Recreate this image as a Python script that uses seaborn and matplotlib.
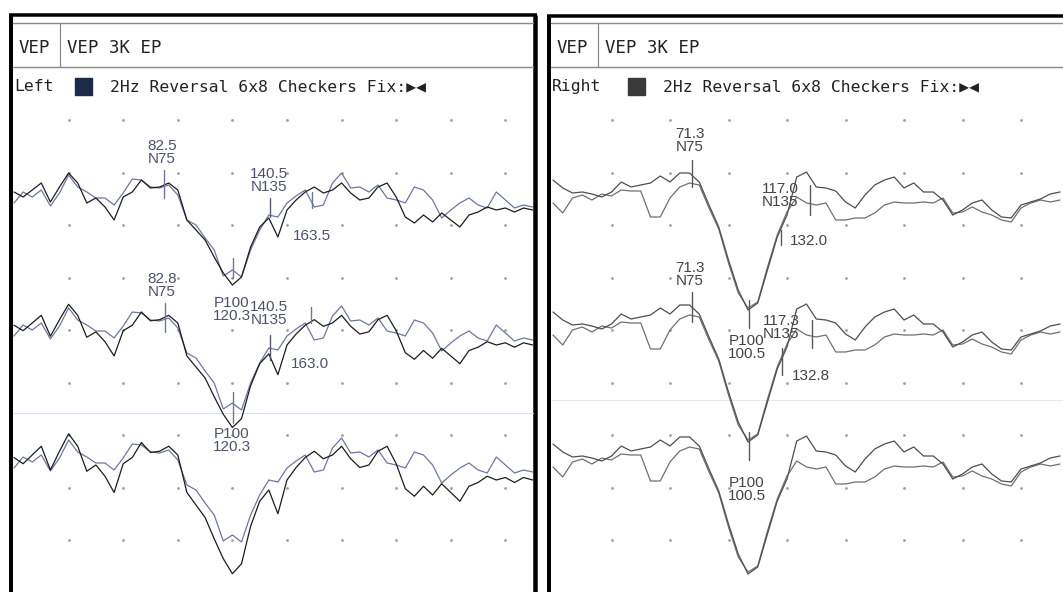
import numpy as np
import matplotlib
matplotlib.use('Agg')
import matplotlib.pyplot as plt
import seaborn as sns
from matplotlib.patches import Rectangle

sns.set_theme(style='white')
plt.rcParams['font.family'] = ['DejaVu Sans Mono', 'DejaVu Sans']

# ---- data: VEP traces (amplitude, px units of the first row, up = positive) ----
TIME_L = np.arange(0, 290, 5)          # ms, left eye
LEFT_BLACK = [-2, -7, 0, 7, -12, 3, 17, 7, -13, -8, -17, -30, -7, -2, 10, 2, 3, 7, 0, -30,
              -40, -50, -67, -83, -95, -87, -57, -37, -28, -47, -20, -10, -2, 3, -3, 0, 7, -3,
              -10, -8, 3, 7, -7, -27, -33, -25, -32, -23, -30, -37, -25, -22, -17, -20, -18,
              -22, -18, -20]
LEFT_BLUE = [-13, -2, -7, 0, -16, -3, 15, 3, -2, -8, -8, -15, -3, 11, 10, 3, 2, 5, -5, -30,
             -35, -48, -60, -86, -80, -87, -60, -40, -25, -27, -13, -6, 0, -17, -15, 7, 17, 2,
             3, -2, 5, -8, -10, -13, 3, 0, -10, -28, -20, -13, -8, -15, -18, -2, -10, -18,
             -15, -17]

TIME_R = np.arange(0, 265, 5)          # ms, right eye
RIGHT_A = [13, 5, 0, 1, -1, -4, 1, 11, 6, 8, 10, 17, 11, 20, 20, 11, -12, -34, -67, -97,
           -117, -110, -77, -44, -22, 16, 21, 6, 5, 2, -9, -15, -2, 8, 13, 16, 5, 10, 1, 1,
           -7, -22, -17, -10, -7, -17, -24, -25, -12, -9, -6, -1, 1]
RIGHT_B = [-10, -20, -5, -2, -7, -1, -3, 3, 2, 2, -24, -24, -5, 6, 10, 8, -15, -36, -70, -100,
           -115, -109, -74, -42, -19, -4, -10, -12, -10, -27, -27, -25, -25, -20, -12, -9, -10,
           -10, -9, -10, -5, -20, -19, -14, -19, -22, -27, -29, -15, -10, -7, -9, -7]

# peak markers (ms) and their labels
LEFT_MARK_T = [82.5, 140.5, 163.5, 120.3, 82.8, 140.5, 163.0, 120.3]
LEFT_LABELS = [('82.5', 'N75'), ('140.5', 'N135'), ('163.5', ''), ('P100', '120.3'),
               ('82.8', 'N75'), ('140.5', 'N135'), ('163.0', ''), ('P100', '120.3')]
RIGHT_MARK_T = [71.3, 132.0, 117.0, 100.5, 71.3, 132.8, 117.3, 100.5]
RIGHT_LABELS = [('71.3', 'N75'), ('117.0', 'N135'), ('132.0', ''), ('P100', '100.5'),
                ('71.3', 'N75'), ('117.3', 'N135'), ('132.8', ''), ('P100', '100.5')]

# ---- layout (pixels) ----
W, H = 1063, 592
fig = plt.figure(figsize=(W / 100, H / 100), dpi=100)
bg = fig.add_axes([0, 0, 1, 1])
bg.set_xlim(0, W)
bg.set_ylim(H, 0)
bg.axis('off')

PT = 0.72  # points per pixel


def header(x0, x1, name, box_x, box_c):
    bg.plot([x0, x1], [22.5, 22.5], color='#8a8a8a', lw=1.4 * PT)
    bg.plot([x0, x1], [67, 67], color='#8a8a8a', lw=1.4 * PT)
    bg.plot([x0 + 47, x0 + 47], [22.5, 67], color='#8a8a8a', lw=1.2 * PT)
    bg.text(x0 + 6, 53, 'VEP', fontsize=12.5, color='#222', va='baseline')
    bg.text(x0 + 54, 53, 'VEP 3K EP', fontsize=12.5, color='#222', va='baseline')
    bg.text(x0 + 1, 91, name, fontsize=11.8, color='#222', va='baseline')
    bg.add_patch(Rectangle((box_x, 77.5), 17, 17, color=box_c))
    bg.text(box_x + 35, 91, '2Hz Reversal 6x8 Checkers Fix:\u25b6\u25c0', fontsize=11.8,
            color='#222', va='baseline')


# panel frames
bg.plot([11, 11], [14.5, H], color='black', lw=4 * PT, solid_capstyle='butt')
bg.plot([9, 537], [14.5, 14.5], color='black', lw=3.5 * PT, solid_capstyle='butt')
bg.plot([535, 535], [14.5, H], color='black', lw=4.5 * PT, solid_capstyle='butt')
bg.plot([549, 549], [15.5, H], color='black', lw=4 * PT, solid_capstyle='butt')
bg.plot([547, W], [15.5, 15.5], color='black', lw=3.5 * PT, solid_capstyle='butt')

header(13, 533, 'Left', 75, '#1e2b48')
header(551, W, 'Right', 628, '#3a3a3a')

# faint ruled lines
bg.plot([13, 533], [413, 413], color='#d8def2', lw=1 * PT)
bg.plot([551, W], [400, 400], color='#e6e6ec', lw=1 * PT)


def panel(px_left, px_right, zero_px, px_per_ms):
    ax = fig.add_axes([px_left / W, 0, (px_right - px_left) / W, 1])
    ax.set_xlim((px_left - zero_px) / px_per_ms, (px_right - zero_px) / px_per_ms)
    ax.set_ylim(H, 0)
    ax.axis('off')
    return ax


grid_rows = 120 + 52.5 * np.arange(9)


def draw_panel(ax, t, traces, bases, marks, labels, label_pos, tick_spans, label_color, tmax):
    gx, gy = np.meshgrid(np.arange(30, tmax, 30), grid_rows)
    sns.scatterplot(x=gx.ravel(), y=gy.ravel(), s=4, color='#a0a0a0', linewidth=0, ax=ax,
                    legend=False)
    for vals, color, gains in traces:
        for base, g in zip(bases, gains):
            sns.lineplot(x=t, y=base - g * np.asarray(vals), ax=ax, color=color, lw=0.9,
                         sort=False, estimator=None, legend=False)
    for tm, (y0, y1, c) in zip(marks, tick_spans):
        ax.plot([tm, tm], [y0, y1], color=c, lw=1.0)
    for (l1, l2), (tx, ty) in zip(labels, label_pos):
        ax.text(tx, ty, l1, ha='center', va='center', fontsize=11, color=label_color,
                family='Liberation Sans')
        if l2:
            ax.text(tx, ty + 13, l2, ha='center', va='center', fontsize=11,
                    color=label_color, family='Liberation Sans')


# left eye
axL = panel(13, 533, 14, 1.82)
BL = '#6b78a6'
draw_panel(axL, TIME_L,
           [(LEFT_BLUE, BL, [1.0, 1.0, 1.0]), (LEFT_BLACK, '#1c1c1c', [1.0, 1.1, 1.25])],
           [190, 323, 455], LEFT_MARK_T, LEFT_LABELS,
           [(81.3, 146), (140.0, 174), (163.7, 236), (119.8, 303),
            (81.3, 279), (140.0, 307), (162.6, 364), (119.8, 434)],
           [(170, 198, BL), (198, 217, '#555a70'), (192, 208, BL), (258, 278, BL),
            (303, 332, BL), (335, 360, '#555a70'), (307, 323, BL), (392, 423, BL)],
           '#4b5370', 285)

# right eye
axR = panel(551, W, 553, 1.95)
GR = '#5a5a5a'
draw_panel(axR, TIME_R,
           [(RIGHT_B, '#707070', [1.0, 1.0, 1.0]), (RIGHT_A, '#4e4e4e', [1.0, 1.0, 1.0])],
           [193, 325, 457], RIGHT_MARK_T, RIGHT_LABELS,
           [(70.3, 134), (116.4, 189), (131.3, 241), (99.5, 341),
            (70.3, 268), (117.0, 321), (132.3, 376), (99.5, 483)],
           [(160, 187, GR), (185, 215, GR), (230, 245, GR), (300, 328, GR),
            (292, 322, GR), (320, 348, GR), (348, 375, GR), (432, 460, GR)],
           '#444444', 262)

fig.savefig('out.png', dpi=100, facecolor='white')
